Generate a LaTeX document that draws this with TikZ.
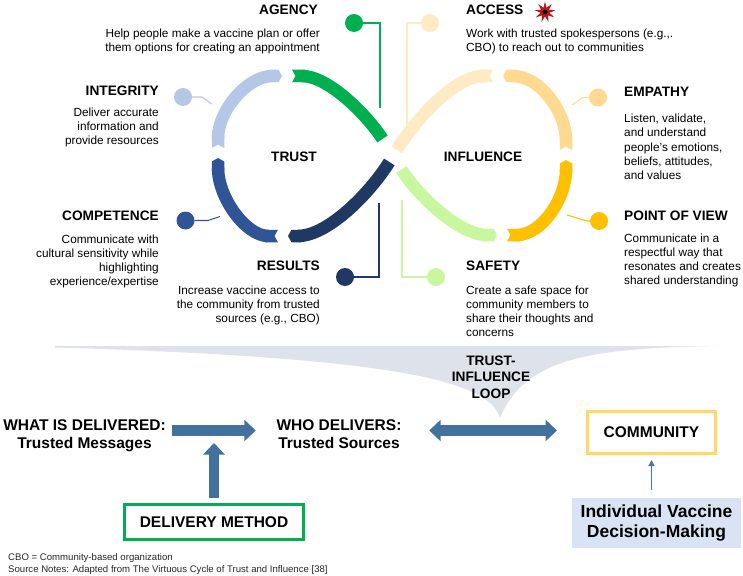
\documentclass[tikz,border=0pt]{standalone}
\usepackage{fontspec}
\setmainfont{Liberation Sans}
\usetikzlibrary{arrows.meta,shapes.geometric,calc}
\definecolor{cgreen}{RGB}{0,176,80}
\definecolor{clblue}{HTML}{B4C7E7}
\definecolor{cblue}{HTML}{2F5597}
\definecolor{cnavy}{HTML}{1F3864}
\definecolor{cpale}{HTML}{FFEBC3}
\definecolor{corange}{HTML}{FFD98F}
\definecolor{cgold}{HTML}{FFC000}
\definecolor{clgreen}{HTML}{C9F7A0}
\definecolor{cstar}{RGB}{190,20,30}
\definecolor{cbanner}{HTML}{DDE2EB}
\definecolor{arrowc}{HTML}{41719C}
\definecolor{thinarr}{HTML}{4472C4}
\definecolor{ccomm}{HTML}{FFD966}
\definecolor{civd}{HTML}{DAE3F3}
\newcommand\tstr{\rule{0pt}{9pt}}
\newcommand\tstrb{\rule{0pt}{10.5pt}}
\newcommand\tstrc{\rule{0pt}{12pt}}
\tikzset{ptip/.tip={Triangle Cap[length=3.5pt]}, ntip/.tip={Triangle Cap[reversed,length=3.5pt]}}
\begin{document}
\begin{tikzpicture}[x=1pt,y=-1pt,
  seg/.style={line width=12.5pt, line cap=butt},
  hd/.style={font=\fontsize{13.7}{16.5}\selectfont\bfseries, inner sep=0pt},
  bodyr/.style={font=\fontsize{11.8}{14.2}\selectfont, align=right, inner sep=0pt, anchor=north east},
  bodyl/.style={font=\fontsize{11.8}{14.2}\selectfont, align=left, inner sep=0pt, anchor=north west},
  dot/.style={circle, inner sep=0pt, minimum size=18pt},
  lnk/.style={line width=1.1pt},
  bt/.style={font=\fontsize{15.5}{18.5}\selectfont\bfseries, inner sep=0pt},
  blk/.style={line width=10.5pt, draw=arrowc, -{Triangle[width=21pt,length=11.5pt]}},
  dblk/.style={line width=10.5pt, draw=arrowc, {Triangle[width=21pt,length=11.5pt]}-{Triangle[width=21pt,length=11.5pt]}},
  foot/.style={font=\fontsize{9.6}{11.6}\selectfont, inner sep=0pt, anchor=base west, text=black!85}
]
\useasboundingbox (0,0) rectangle (743,575);

% ---- banner
\fill[cbanner] (55,346) -- (720,346) .. controls (600,348) and (525,355) .. (500,418)
   .. controls (490,385) and (420,358) .. (55,347.5) -- cycle;

% ---- connectors with dots
\node[dot, fill=cgreen] (dag) at (354,23) {};
\coordinate (eag) at (380,108);
\draw[lnk, cgreen] (dag) -| (eag);
\node[dot, fill=cpale] (dac) at (430,23) {};
\coordinate (eac) at (407,125);
\draw[lnk, cpale] (dac) -| (eac);
\node[dot, fill=cnavy] (dre) at (345,277) {};
\coordinate (ere) at (379,203);
\draw[lnk, cnavy] (dre) -| (ere);
\node[dot, fill=clgreen] (dsa) at (436,277) {};
\coordinate (esa) at (402,200);
\draw[lnk, clgreen] (dsa) -| (esa);
\node[dot, fill=clblue] (din) at (183,97) {};
\coordinate (ein) at (212,104);
\draw[lnk, clblue] (din) -- ++(19,0) -- (ein);
\node[dot, fill=cblue] (dco) at (185.5,220.5) {};
\coordinate (eco) at (220,216.5);
\draw[lnk, cblue] (dco) -- ++(22.5,0) -- (eco);
\node[dot, fill=corange] (dem) at (598,97.5) {};
\coordinate (eem) at (572,105);
\draw[lnk, corange] (dem) -- ++(-15,0) -- (eem);
\node[dot, fill=cgold] (dpv) at (599,221) {};
\coordinate (epv) at (567,215);
\draw[lnk, cgold] (dpv) -- ++(-12,0) -- (epv);

% ---- infinity loop
\draw[seg, clblue, {ntip}-{ptip}, shorten <=5pt, shorten >=5pt] (218,153) .. controls (218,110) and (248,76) .. (287,76);
\draw[seg, cgreen, {ntip}-, shorten <=5pt, shorten >=20pt] (287,76) .. controls (330,76) and (370,119) .. (393,156);
\draw[seg, cnavy, -{ptip}, shorten <=7pt, shorten >=5pt] (393,156) .. controls (370,193) and (328,236) .. (283,236);
\draw[seg, cblue, {ntip}-{ptip}, shorten <=5pt, shorten >=5pt] (283,236) .. controls (246,236) and (218,198) .. (218,153);
\draw[seg, cpale, -{ntip}, shorten <=7pt, shorten >=5pt] (393,156) .. controls (416,119) and (455,76) .. (498,76);
\draw[seg, corange, {ptip}-{ntip}, shorten <=5pt, shorten >=5pt] (498,76) .. controls (540,76) and (566,112) .. (566,155);
\draw[seg, cgold, {ptip}-{ntip}, shorten <=5pt, shorten >=5pt] (566,155) .. controls (566,198) and (542,235) .. (502,235);
\draw[seg, clgreen, {ptip}-, shorten <=5pt, shorten >=16pt] (502,235) .. controls (458,235) and (416,193) .. (393,156);

\node[hd, anchor=base] (trust) at (294,161.5) {TRUST};
\node[hd, anchor=base] (infl) at (483,161) {INFLUENCE};

% ---- headings and texts
\node[hd, anchor=base east] (agency) at (318,15) {AGENCY};
\node[bodyr] (agencyt) at (320,28.5) {\tstr Help people make a vaccine plan or offer\\them options for creating an appointment};
\node[hd, anchor=base west] (access) at (466,15) {ACCESS};
\node[star, star points=9, star point ratio=2.3, fill=cstar, inner sep=0pt, minimum size=21pt] (star) at (545,12) {};
\node[circle, fill=black, inner sep=0pt, minimum size=5pt] (starc) at (star) {};
\node[bodyl] (accesst) at (466,28.5) {\tstr Work with trusted spokespersons (e.g.,.\\CBO) to reach out to communities};
\node[hd, anchor=base east] (integ) at (159,95.7) {INTEGRITY};
\node[bodyr] (integt) at (159,107) {\tstr Deliver accurate\\information and\\provide resources};
\node[hd, anchor=base east] (compet) at (159,220.5) {COMPETENCE};
\node[bodyr] (compett) at (159,234) {\tstr Communicate with\\cultural sensitivity while\\highlighting\\experience/expertise};
\node[hd, anchor=base east] (results) at (320,270.7) {RESULTS};
\node[bodyr] (resultst) at (320,285) {\tstr Increase vaccine access to\\the community from trusted\\sources (e.g., CBO)};
\node[hd, anchor=base west] (safety) at (466,270.7) {SAFETY};
\node[bodyl] (safetyt) at (466,285) {\tstr Create a safe space for\\community members to\\share their thoughts and\\concerns};
\node[hd, anchor=base west] (empathy) at (624,96.7) {EMPATHY};
\node[bodyl] (empathyt) at (624,113.5) {\tstr Listen, validate,\\and understand\\people’s emotions,\\beliefs, attitudes,\\and values};
\node[hd, anchor=base west] (pov) at (624,220.7) {POINT OF VIEW};
\node[bodyl] (povt) at (624,233) {\tstr Communicate in a\\respectful way that\\resonates and creates\\shared understanding};

% ---- loop label
\node[hd, align=center, anchor=north] (loop) at (491,354.5) {\tstrb TRUST-\\INFLUENCE\\LOOP};

% ---- bottom flow
\node[bt, align=center, anchor=north] (what) at (84.5,418) {\tstrc WHAT IS DELIVERED:\\Trusted Messages};
\node[bt, align=center, anchor=north] (who) at (339,418) {\tstrc WHO DELIVERS:\\Trusted Sources};
\node[bt, draw=ccomm, line width=3pt, minimum width=128pt, minimum height=42pt] (comm) at (651.5,432.5) {COMMUNITY};
\node[bt, draw=cgreen, line width=3pt, minimum width=179pt, minimum height=35pt] (dm) at (214,522) {DELIVERY METHOD};
\node[font=\fontsize{17.5}{20}\selectfont\bfseries, align=center, fill=civd, inner sep=0pt, minimum width=169pt, minimum height=50pt] (ivd) at (656.5,523) {Individual Vaccine\\Decision-Making};
\coordinate (jn) at (214,443);

\draw[blk, shorten <=5.7pt, shorten >=20.6pt] (what.east |- 0,430.5) -- (who.west |- 0,430.5);
\draw[dblk, shorten <=27.6pt, shorten >=29pt] (who.east |- 0,430.5) -- (comm.west |- 0,430.5);
\draw[blk, shorten <=5pt] (dm.north) -- (jn);
\draw[line width=1.5pt, thinarr, -{Triangle[width=6pt,length=6pt]}, shorten <=8pt, shorten >=5pt] (ivd.north -| comm.south) -- (comm.south);

% ---- footer
\node[foot] (cbo) at (8,560.7) {CBO = Community-based organization};
\node[foot] (src) at (8,572.3) {Source Notes: Adapted from The Virtuous Cycle of Trust and Influence [38]};
\end{tikzpicture}
\end{document}
